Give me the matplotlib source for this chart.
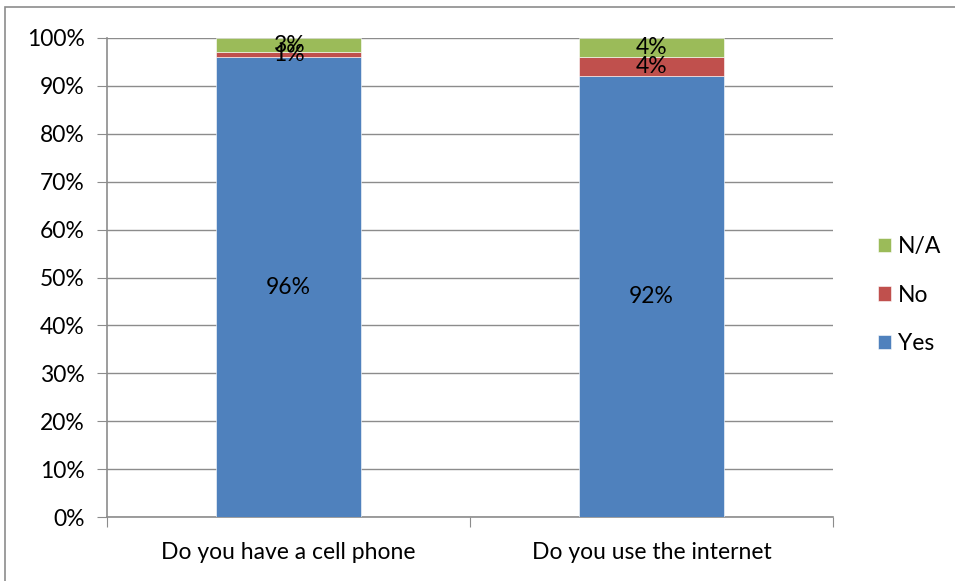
import matplotlib.pyplot as plt
from matplotlib.patches import Rectangle
import numpy as np

questions = ["Do you have a cell phone", "Do you use the internet"]
yes = [96, 92]
no = [1, 4]
na = [3, 4]
y_ticks = list(range(0, 101, 10))

COLORS = {"Yes": "#4F81BD", "No": "#C0504D", "N/A": "#9BBB59"}
GRID = "#8C8C8C"
FONT = "Lato"
FS = 16.5

plt.rcParams["font.family"] = [FONT, "DejaVu Sans"]

fig = plt.figure(figsize=(9.55, 5.81), dpi=100)
ax = fig.add_axes([107 / 955, 1 - 517 / 581, 726 / 955, 479 / 581])

# chart frame (only top and left edges fall inside the canvas)
fig.patches.append(Rectangle((5 / 955, 0 - 0.01), 1.0, 1 - 7 / 581 + 0.01,
                             transform=fig.transFigure, fill=False,
                             edgecolor="#8C8C8C", lw=1.2))

x = np.arange(len(questions))
w = 0.4
series = [("Yes", yes), ("No", no), ("N/A", na)]
bottom = np.zeros(len(questions))
bars = {}
for name, vals in series:
    vals = np.array(vals, dtype=float)
    bars[name] = ax.bar(x, vals, w, bottom=bottom, color=COLORS[name],
                        label=name, zorder=3, edgecolor="white", linewidth=0.4)
    for xi, b, v in zip(x, bottom, vals):
        ax.text(xi, b + v / 2, f"{v:.0f}%", ha="center", va="center",
                fontsize=FS, color="black", zorder=4)
    bottom += vals

ax.set_xlim(-0.5, 1.5)
ax.set_ylim(0, 100)
ax.set_yticks(y_ticks)
ax.set_yticklabels([f"{t}%" for t in y_ticks], fontsize=FS)
ax.yaxis.grid(True, color=GRID, lw=1.0, zorder=0)

ax.set_xticks([-0.5, 0.5, 1.5])
ax.set_xticklabels([])
ax.set_xticks(x, minor=True)
ax.set_xticklabels(questions, minor=True, fontsize=FS)
ax.tick_params(axis="x", which="major", length=7, color=GRID, direction="out")
ax.tick_params(axis="x", which="minor", length=0, pad=18)
ax.tick_params(axis="y", length=7, color=GRID, direction="out", pad=9)

for side in ("top", "right"):
    ax.spines[side].set_visible(False)
for side in ("left", "bottom"):
    ax.spines[side].set_color(GRID)
    ax.spines[side].set_linewidth(1.2)

handles = [bars["N/A"], bars["No"], bars["Yes"]]
fig.legend(handles, ["N/A", "No", "Yes"], loc="center left",
           bbox_to_anchor=(857 / 955, 1 - 295 / 581), frameon=False,
           fontsize=FS, handlelength=0.6, handleheight=0.6,
           handletextpad=0.3, labelspacing=1.2)

fig.savefig("out.png", dpi=100)
